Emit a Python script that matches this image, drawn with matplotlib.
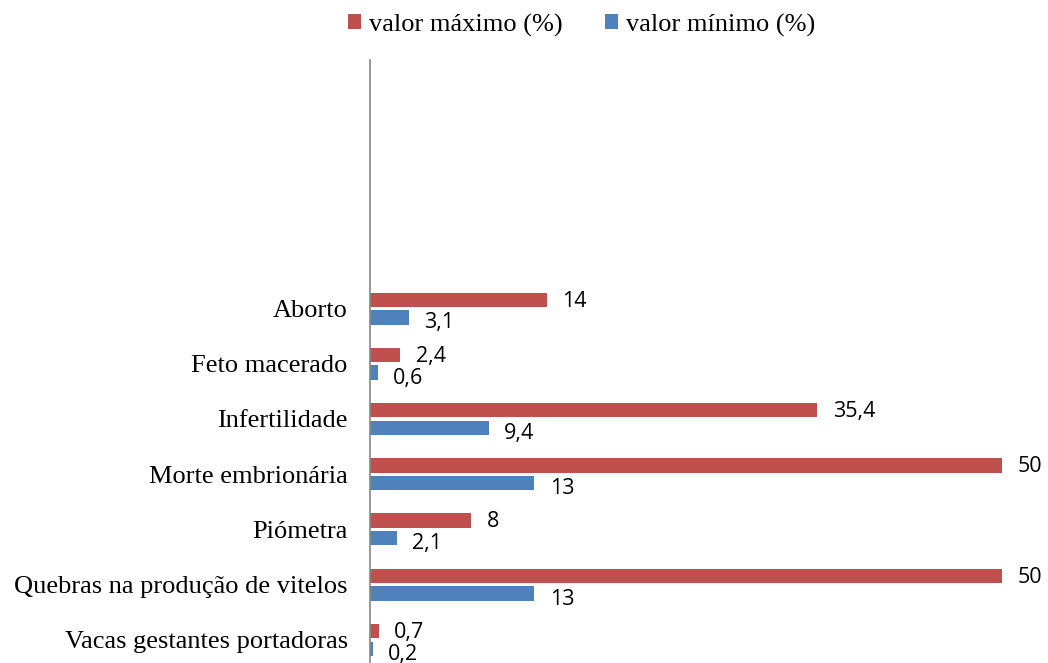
import matplotlib.pyplot as plt
import numpy as np

# data (top to bottom as shown in the chart)
categories = ['Aborto', 'Feto macerado', 'Infertilidade', 'Morte embrionária',
              'Piómetra', 'Quebras na produção de vitelos', 'Vacas gestantes portadoras']
valor_maximo = [14, 2.4, 35.4, 50, 8, 50, 0.7]
valor_minimo = [3.1, 0.6, 9.4, 13, 2.1, 13, 0.2]
n_blank_slots = 4  # empty category slots above "Aborto"

RED = '#C0504D'
BLUE = '#4F81BD'

fig = plt.figure(figsize=(10.48, 6.63), dpi=100)
ax = fig.add_axes([370 / 1048, -4.5 / 663, (1002 - 370) / 1048, (667.5 - 60) / 663])

n = len(categories)
ypos = np.arange(n)[::-1]  # Aborto highest
bh = 0.26
ax.barh(ypos + bh / 2 + 0.03, valor_maximo, height=bh, color=RED, label='valor máximo (%)')
ax.barh(ypos - bh / 2 - 0.03, valor_minimo, height=bh, color=BLUE, label='valor mínimo (%)')

def fmt(v):
    return (f'{v:g}').replace('.', ',')

for y, v in zip(ypos, valor_maximo):
    ax.annotate(fmt(v), (v, y + bh / 2 + 0.03), xytext=(11, -1), textcoords='offset points',
                va='center', ha='left', fontsize=15.5, family='Open Sans', annotation_clip=False)
for y, v in zip(ypos, valor_minimo):
    ax.annotate(fmt(v), (v, y - bh / 2 - 0.03), xytext=(11, -4), textcoords='offset points',
                va='center', ha='left', fontsize=15.5, family='Open Sans', annotation_clip=False)

ax.set_xlim(0, 50)
ax.set_ylim(-0.5, n - 0.5 + n_blank_slots)
ax.set_yticks(ypos)
ax.set_yticklabels(categories, family='Liberation Serif', fontsize=19)
ax.tick_params(axis='y', length=0, pad=16)
ax.set_xticks([])

for side in ['top', 'right', 'bottom']:
    ax.spines[side].set_visible(False)
ax.spines['left'].set_color('#888888')
ax.spines['left'].set_linewidth(1.2)

fig.legend(loc='center', bbox_to_anchor=(0.555, 1 - 25 / 663), ncol=2, frameon=False,
           prop={'family': 'Liberation Serif', 'size': 19}, handlelength=0.5, handleheight=0.5,
           handletextpad=0.3, columnspacing=1.6)

plt.savefig('out.png', dpi=100)
